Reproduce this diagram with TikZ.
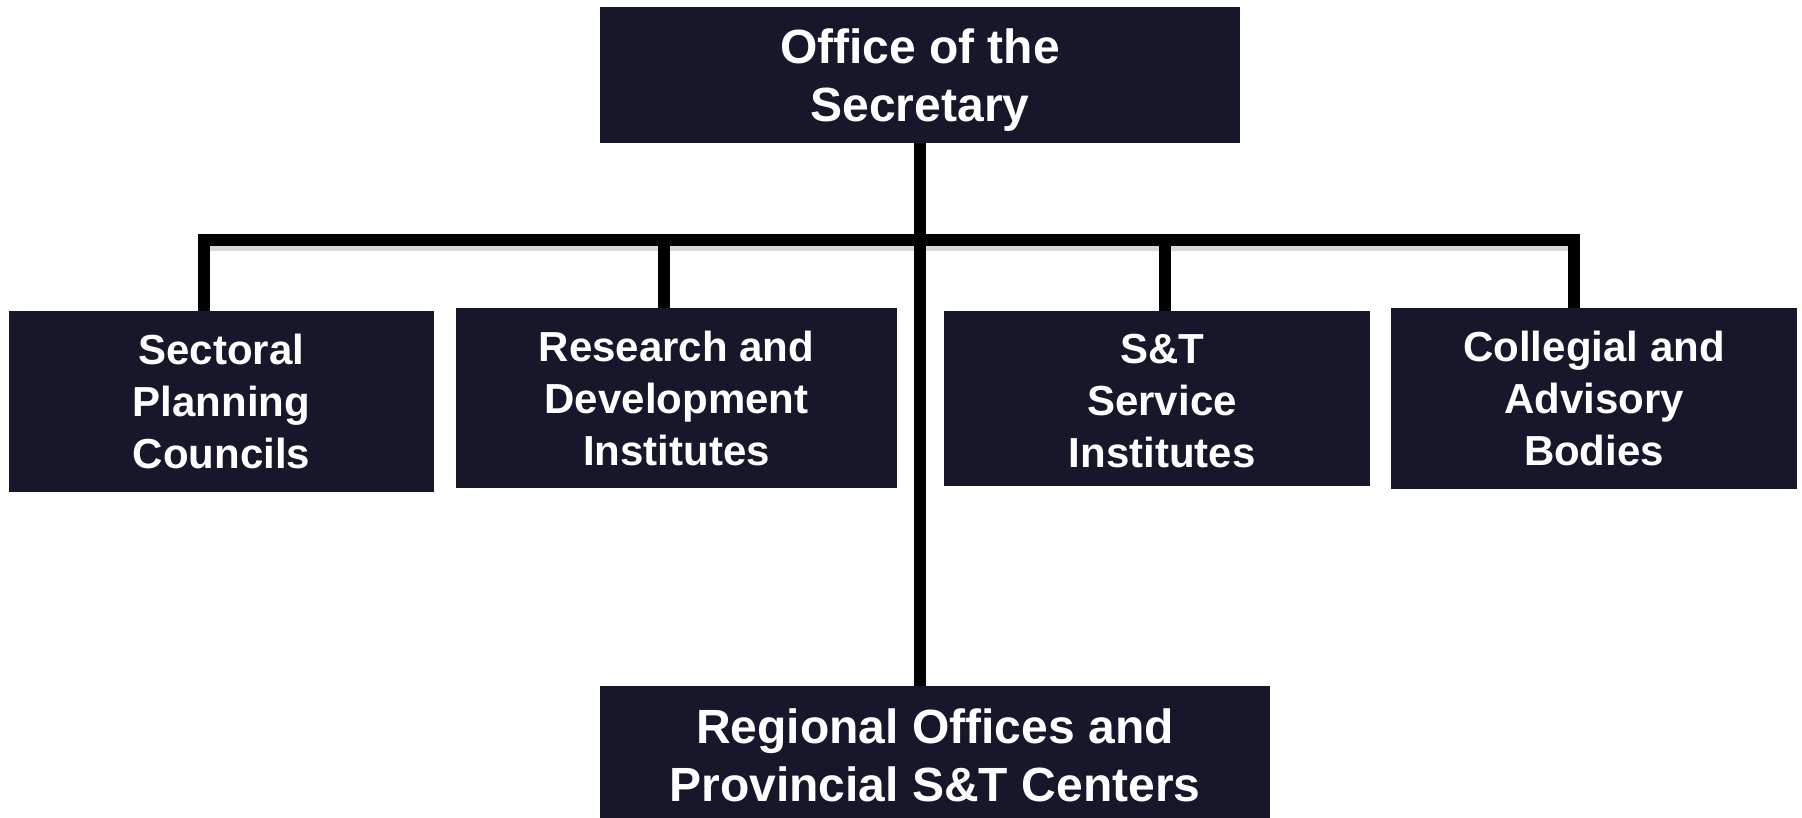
\documentclass[tikz,border=0pt]{standalone}
\usepackage{fontspec}
\setmainfont{Liberation Sans}
\definecolor{boxfill}{RGB}{22,23,42}
\begin{document}
\begin{tikzpicture}[x=1pt,y=-1pt,
  orgbox/.style={fill=boxfill, text=white, align=center, inner sep=0pt,
    font=\bfseries\fontsize{42}{52}\selectfont},
  bigbox/.style={orgbox, font=\bfseries\fontsize{48}{58}\selectfont},
  boxtext/.style={text=white, align=center, inner sep=0pt},
  conn/.style={draw=black, line width=12pt, line join=miter},
  shadowline/.style={draw=black, opacity=0.15, line width=6pt}]
\clip (0,0) rectangle (1802,818);
\fill[white] (0,0) rectangle (1802,818);
\node[bigbox, minimum width=640pt, minimum height=136pt] (top) at (920,75) {};
\node[boxtext, font=\bfseries\fontsize{48}{58}\selectfont] (toptext) at (920,80) {Office of the\\Secretary};
\node[orgbox, minimum width=425pt, minimum height=181pt] (sec) at (221.5,401.5) {Sectoral\\Planning\\Councils};
\node[orgbox, minimum width=441pt, minimum height=180pt] (rnd) at (676.5,398) {Research and\\Development\\Institutes};
\node[orgbox, minimum width=426pt, minimum height=175pt] (sti) at (1157,398.5) {};
\node[boxtext, font=\bfseries\fontsize{42}{52}\selectfont] (stitext) at (1162,401) {S\&T\\Service\\Institutes};
\node[orgbox, minimum width=406pt, minimum height=181pt] (col) at (1594,398.5) {Collegial and\\Advisory\\Bodies};
\node[bigbox, minimum width=670pt, minimum height=138pt] (reg) at (935,755) {Regional Offices and\\Provincial S\&T Centers};
\coordinate (d1) at (204,240);
\coordinate (d2) at (664,240);
\coordinate (d3) at (1165,240);
\coordinate (d4) at (1574,240);
\draw[shadowline] ([yshift=-8pt]d1) -- ([yshift=-8pt]d4);
\draw[conn] (sec.north -| d1) -- (d1) -- (d4) -- (col.north -| d4);
\draw[conn] (d2) -- (rnd.north -| d2);
\draw[conn] (d3) -- (sti.north -| d3);
\draw[conn] (top.south) -- (top.south |- reg.north);
\end{tikzpicture}
\end{document}
